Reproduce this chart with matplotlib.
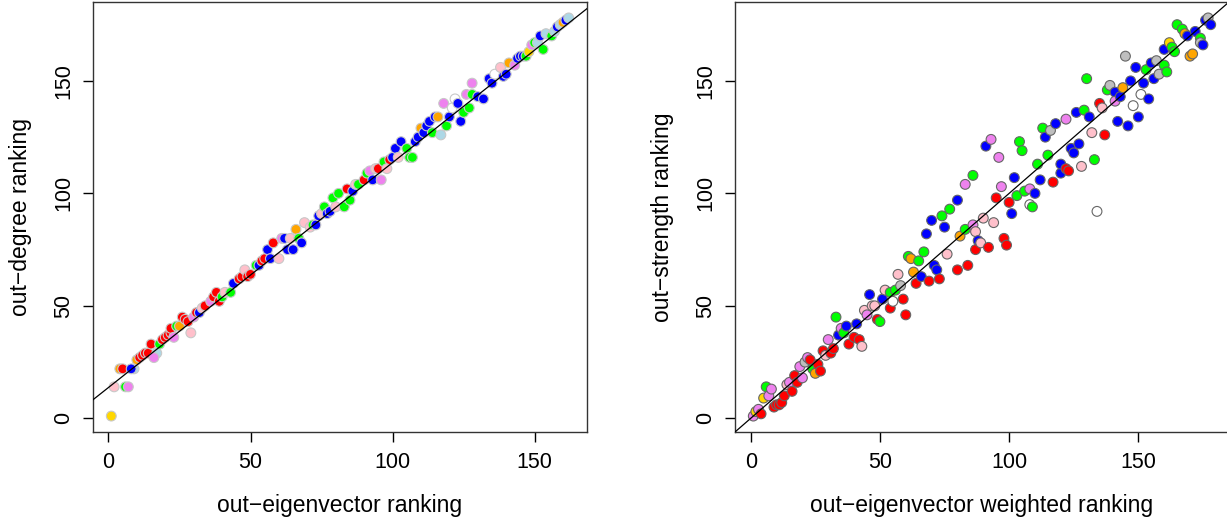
import numpy as np
import matplotlib
matplotlib.use("Agg")
import matplotlib.pyplot as plt

plt.rcParams['font.family'] = ['Liberation Sans', 'DejaVu Sans']

# colour names used by the original R plot
pal = {'red': '#FF0000', 'blue': '#0000FF', 'green': '#00FF00', 'violet': '#EE82EE',
       'pink': '#FFC0CB', 'orange': '#FFA500', 'gold': '#FFD700', 'lightblue': '#ADD8E6',
       'grey': '#BEBEBE', 'white': '#FFFFFF'}

# left panel: out-eigenvector ranking vs out-degree ranking
left_x = [1, 2, 6, 7, 4, 5, 9, 8, 10, 11, 12, 13, 14, 17, 16, 15, 18, 19, 20, 21,
          22, 22, 23, 24, 25, 26, 27, 28, 29, 30, 31, 32, 33, 34, 36, 37, 38, 39, 40, 41,
          43, 44, 46, 47, 48, 49, 50, 52, 53, 54, 55, 56, 57, 58, 60, 61, 62, 63, 64, 65,
          66, 67, 68, 69, 71, 72, 73, 74, 75, 76, 77, 78, 79, 80, 81, 83, 84, 85, 86, 87,
          88, 90, 91, 92, 93, 94, 95, 96, 97, 98, 99, 100, 101, 102, 103, 105, 106, 107, 108, 109,
          110, 111, 112, 113, 114, 115, 116, 117, 118, 119, 120, 121, 122, 123, 124, 125, 126, 127, 128, 128,
          130, 132, 134, 135, 136, 138, 139, 140, 141, 143, 144, 145, 146, 147, 148, 149, 150, 151, 152, 153,
          154, 156, 157, 158, 159, 160, 161, 162]
left_y = [1, 14, 14, 14, 22, 22, 22, 22, 26, 27, 28, 29, 29, 29, 27, 33, 33, 35, 36, 37,
          38, 40, 36, 41, 41, 45, 44, 43, 38, 45, 47, 47, 49, 50, 52, 54, 56, 52, 54, 56,
          56, 60, 62, 63, 66, 63, 64, 68, 68, 70, 71, 75, 71, 78, 71, 80, 80, 75, 80, 75,
          84, 80, 78, 87, 85, 86, 86, 90, 91, 94, 91, 92, 98, 94, 100, 94, 102, 97, 101, 104,
          104, 106, 109, 110, 106, 111, 111, 106, 114, 111, 115, 116, 120, 116, 123, 120, 116, 116, 123, 125,
          129, 127, 130, 132, 127, 134, 134, 126, 140, 130, 134, 138, 142, 140, 132, 136, 144, 138, 149, 144,
          143, 142, 151, 149, 153, 156, 152, 153, 158, 157, 160, 161, 161, 161, 163, 166, 167, 167, 170, 164,
          171, 170, 172, 174, 175, 176, 177, 178]
left_col = ['gold', 'pink', 'green', 'violet', 'orange', 'red', 'lightblue', 'blue', 'orange', 'red',
            'red', 'red', 'red', 'lightblue', 'violet', 'red', 'green', 'red', 'red', 'red',
            'red', 'red', 'violet', 'green', 'orange', 'red', 'red', 'red', 'pink', 'violet',
            'red', 'blue', 'pink', 'red', 'violet', 'red', 'red', 'red', 'green', 'pink',
            'green', 'blue', 'red', 'red', 'pink', 'red', 'red', 'green', 'blue', 'red',
            'red', 'blue', 'blue', 'red', 'pink', 'violet', 'blue', 'blue', 'pink', 'blue',
            'orange', 'green', 'blue', 'pink', 'pink', 'green', 'blue', 'blue', 'pink', 'green',
            'blue', 'blue', 'green', 'pink', 'green', 'green', 'red', 'green', 'blue', 'pink',
            'green', 'red', 'green', 'violet', 'blue', 'pink', 'red', 'violet', 'green', 'pink',
            'red', 'blue', 'blue', 'pink', 'blue', 'green', 'green', 'green', 'blue', 'blue',
            'orange', 'blue', 'blue', 'blue', 'green', 'blue', 'orange', 'lightblue', 'violet', 'green',
            'blue', 'white', 'white', 'blue', 'blue', 'green', 'violet', 'green', 'violet', 'green',
            'blue', 'blue', 'blue', 'blue', 'white', 'pink', 'blue', 'blue', 'orange', 'violet',
            'blue', 'blue', 'blue', 'green', 'gold', 'violet', 'green', 'lightblue', 'blue', 'green',
            'lightblue', 'green', 'lightblue', 'blue', 'lightblue', 'orange', 'blue', 'lightblue']
left_fit = (13.7, 1.0)  # intercept, slope of the reference line

# right panel: out-eigenvector weighted ranking vs out-strength ranking
right_x = [1, 2, 3, 4, 5, 6, 7, 8, 9, 10, 11, 12, 13, 14, 15, 16, 17, 18, 19, 20,
           21, 22, 23, 24, 25, 26, 27, 28, 29, 30, 31, 32, 33, 34, 35, 36, 37, 38, 40, 41,
           42, 43, 44, 45, 46, 47, 48, 49, 50, 51, 52, 54, 54, 55, 56, 57, 58, 59, 60, 61,
           62, 63, 64, 65, 66, 67, 68, 69, 70, 71, 72, 73, 74, 75, 76, 77, 80, 80, 81, 83,
           83, 84, 86, 86, 87, 87, 88, 89, 90, 91, 92, 93, 94, 95, 96, 97, 98, 99, 100, 101,
           102, 103, 104, 105, 106, 108, 108, 109, 110, 111, 112, 113, 114, 115, 116, 117, 118, 120, 120, 122,
           122, 123, 124, 125, 126, 127, 128, 129, 130, 131, 132, 133, 134, 135, 136, 137, 138, 139, 141, 141,
           142, 143, 144, 145, 146, 147, 148, 149, 150, 151, 152, 153, 154, 155, 156, 157, 158, 160, 160, 161,
           162, 163, 164, 165, 167, 168, 169, 170, 171, 172, 174, 174, 175, 176, 177, 178]
right_y = [1, 3, 4, 2, 9, 14, 10, 13, 5, 6, 6, 7, 10, 15, 16, 12, 19, 16, 23, 18,
           25, 27, 26, 22, 20, 24, 21, 30, 28, 35, 29, 31, 45, 37, 40, 38, 41, 33, 36, 42,
           35, 32, 48, 46, 55, 50, 50, 44, 43, 53, 57, 56, 49, 52, 57, 64, 59, 53, 46, 72,
           71, 65, 60, 70, 63, 74, 82, 61, 88, 68, 66, 62, 90, 85, 73, 93, 97, 66, 81, 84,
           104, 68, 108, 86, 83, 75, 79, 78, 89, 121, 76, 124, 87, 98, 116, 103, 80, 77, 96, 91,
           107, 99, 123, 119, 101, 102, 95, 94, 100, 113, 106, 129, 125, 117, 128, 105, 131, 109, 113, 111,
           133, 110, 120, 118, 136, 122, 112, 137, 151, 134, 127, 115, 92, 140, 138, 126, 146, 148, 145, 141,
           132, 143, 147, 161, 130, 150, 139, 156, 134, 144, 149, 155, 142, 158, 151, 159, 153, 157, 164, 154,
           167, 165, 163, 175, 173, 171, 170, 161, 162, 172, 169, 167, 166, 177, 178, 175]
right_col = ['violet', 'gold', 'violet', 'red', 'gold', 'green', 'violet', 'violet', 'red', 'red',
             'red', 'red', 'red', 'pink', 'violet', 'red', 'red', 'red', 'violet', 'violet',
             'grey', 'violet', 'red', 'green', 'orange', 'red', 'red', 'red', 'pink', 'violet',
             'red', 'red', 'green', 'blue', 'violet', 'green', 'blue', 'red', 'red', 'blue',
             'red', 'pink', 'pink', 'violet', 'blue', 'pink', 'pink', 'red', 'green', 'blue',
             'pink', 'green', 'red', 'white', 'green', 'pink', 'grey', 'red', 'red', 'green',
             'orange', 'orange', 'red', 'green', 'blue', 'green', 'blue', 'red', 'blue', 'blue',
             'blue', 'red', 'green', 'blue', 'pink', 'green', 'blue', 'red', 'orange', 'green',
             'violet', 'red', 'green', 'violet', 'pink', 'red', 'blue', 'pink', 'pink', 'blue',
             'red', 'violet', 'pink', 'red', 'violet', 'violet', 'red', 'red', 'red', 'blue',
             'blue', 'green', 'green', 'green', 'green', 'violet', 'white', 'green', 'blue', 'green',
             'blue', 'green', 'blue', 'green', 'grey', 'red', 'blue', 'blue', 'blue', 'red',
             'violet', 'red', 'blue', 'blue', 'blue', 'blue', 'pink', 'green', 'green', 'blue',
             'pink', 'green', 'white', 'red', 'pink', 'red', 'green', 'grey', 'blue', 'violet',
             'blue', 'blue', 'orange', 'grey', 'blue', 'blue', 'white', 'blue', 'blue', 'white',
             'blue', 'green', 'blue', 'blue', 'blue', 'grey', 'grey', 'green', 'blue', 'green',
             'gold', 'green', 'green', 'green', 'green', 'orange', 'blue', 'orange', 'orange', 'blue',
             'green', 'grey', 'blue', 'blue', 'grey', 'blue']
right_fit = (0.0, 1.0)

W, H = 1227, 521
fig = plt.figure(figsize=(W / 100, H / 100), dpi=100)


def rlim(v):
    # R style axis range: data range extended by 4% on each side
    lo, hi = min(v), max(v)
    d = 0.04 * (hi - lo)
    return lo - d, hi + d


def panel(rect, xs, ys, cols, fit, edge, xlab, ylab):
    ax = fig.add_axes(rect)
    ax.scatter(xs, ys, s=50, c=[pal[c] for c in cols], edgecolors=edge, linewidths=0.8, zorder=2)
    ax.axline((0, fit[0]), slope=fit[1], color='black', lw=0.9, zorder=3)
    ax.set_xlim(rlim(xs))
    ax.set_ylim(rlim(ys))
    ax.set_xticks([0, 50, 100, 150])
    ax.set_yticks([0, 50, 100, 150])
    ax.tick_params(direction='out', length=7.5, width=1, labelsize=15.5)
    ax.tick_params(axis='x', pad=7)
    ax.tick_params(axis='y', pad=6)
    for lab in ax.get_yticklabels():
        lab.set_rotation(90)
        lab.set_va('center')
    for s in ax.spines.values():
        s.set_linewidth(1)
        s.set_color('#333333')
    ax.set_xlabel(xlab, fontsize=16.5, labelpad=15)
    ax.set_ylabel(ylab, fontsize=16.5, labelpad=15)
    return ax


panel([93 / W, 1 - 432 / H, 494 / W, 430 / H], left_x, left_y, left_col, left_fit,
      '#C8C8C8', 'out\u2212eigenvector ranking', 'out\u2212degree ranking')
panel([735 / W, 1 - 432 / H, 494 / W, 430 / H], right_x, right_y, right_col, right_fit,
      '#666666', 'out\u2212eigenvector weighted ranking', 'out\u2212strength ranking')

fig.savefig('out.png', dpi=100)
